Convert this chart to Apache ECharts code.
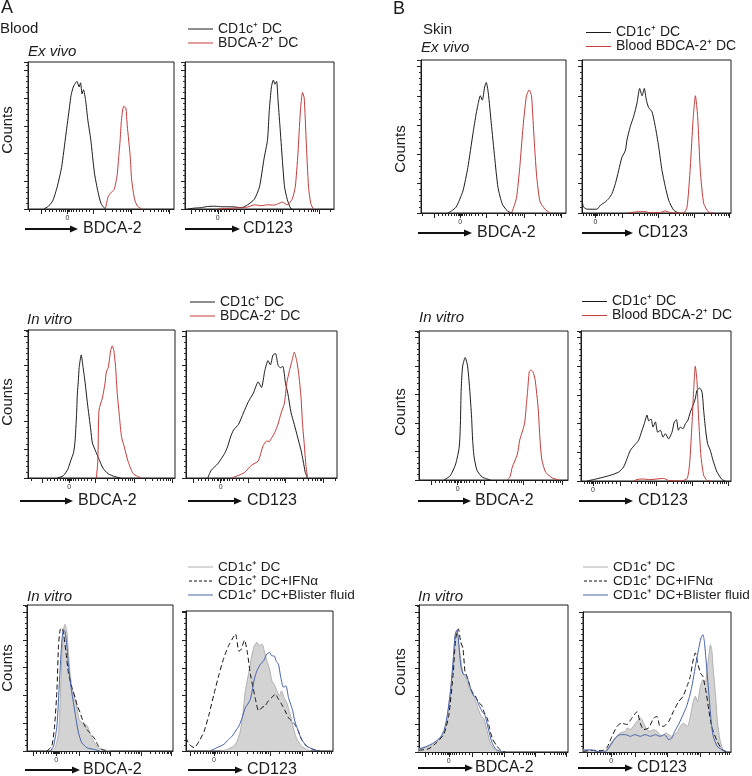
<!DOCTYPE html>
<html><head><meta charset="utf-8">
<script src="https://cdn.jsdelivr.net/npm/echarts@6/dist/echarts.min.js"></script>
<style>html,body{margin:0;padding:0;background:#fff}#c{width:752px;height:776px}</style>
</head><body><div id="c"></div>
<script>
// ---------- data: [x (% of axis range), counts (tick units)] ----------
const A1L_cd1c = [[11,0],[14,0.1],[17,0.3],[20,0.8],[23,1.5],[26,2.7],[28.5,3.7],[29.5,4.1],[31,4.4],[32,4.5],[33.5,4.6],[35,4.4],[36,4.55],[37,4.15],[38,4.3],[39.5,3.9],[41,3.2],[43,2.5],[45.5,1.3],[48,0.6],[50,0.2],[52,0.05],[53,0]];
const A1L_bdca = [[53,0],[54,0.25],[55,0.45],[57,0.6],[59,0.7],[61,1.2],[62,1.8],[63,2.4],[64,3.2],[65.5,3.7],[67,3.65],[68,3.0],[70,1.9],[71,1.05],[73,0.35],[75,0.1],[78,0]];
const A1R_cd1c = [[2,0],[6,0.03],[11,0.05],[15,0.09],[20,0.1],[25,0.08],[31,0.08],[38,0.05],[42,0.15],[46.5,0.35],[50,0.8],[53,1.8],[55.4,2.5],[56.5,3.5],[58,4.4],[59.3,4.65],[60.4,4.5],[61.5,4.6],[62.4,3.95],[63.7,3.0],[65.3,1.8],[66.8,0.8],[68.6,0.35],[70.8,0.03],[72,0]];
const A1R_bdca = [[22,0],[32,0.03],[42,0.07],[46.6,0.15],[51,0.12],[55.4,0.15],[59.8,0.14],[63,0.2],[65.3,0.25],[68.6,0.15],[71.9,0.35],[74,0.8],[75.8,2.0],[77.4,3.5],[78.9,4.2],[80,4.0],[81.3,2.5],[82.9,0.8],[84.4,0.2],[86,0]];
const B1L_cd1c = [[18.5,0],[21,0.07],[24.2,0.2],[28.9,0.75],[32.3,1.55],[35.8,2.7],[38.1,3.4],[39.3,3.7],[40.9,4.0],[42.3,3.85],[43.9,4.3],[45,4.45],[46.4,4.1],[48.5,3.05],[50.8,1.9],[53.1,0.87],[56.1,0.3],[60,0.05],[63.5,0]];
const B1L_bdca = [[62,0],[63,0.07],[65.8,0.5],[68.1,1.55],[70.4,2.95],[72.7,4.0],[74.6,4.2],[76.2,4.0],[77.8,2.7],[79.7,1.3],[82,0.4],[85.5,0.13],[88.9,0]];
const B1R_cd1c = [[0,0.43],[1.1,0.2],[3.4,0.13],[10,0.13],[12.3,0.26],[15.7,0.38],[17.9,0.49],[20.1,0.66],[22.4,1.0],[24.6,1.45],[26.8,1.9],[29.1,2.13],[30.2,2.5],[32.4,2.95],[34.7,3.3],[36.9,3.75],[38.7,4.25],[40.3,4.0],[41.8,4.25],[43.2,3.85],[44.7,3.6],[47,3.45],[49.2,2.95],[51.5,2.25],[53.7,1.45],[55.9,0.9],[58.2,0.43],[61.5,0.1],[64.9,0]];
const B1R_bdca = [[30.2,0],[36.9,0.04],[41.4,0.05],[45.9,0.01],[52.6,0.02],[55.9,0.07],[58.2,0.03],[62.6,0],[68.2,0],[70.5,0.2],[72.7,1.57],[74.5,3.15],[76.1,4.0],[77.6,3.3],[79.4,1.45],[81.7,0.32],[85,0.03],[88.4,0]];

const A2L_cd1c = [[20,0],[24,0.08],[27,0.3],[29,0.6],[31,0.9],[32,1.3],[33,2.2],[33.6,3.0],[34.2,3.4],[34.8,3.9],[36.2,4.35],[37.5,3.9],[38.9,3.35],[40.4,2.65],[42.7,1.7],[43.8,1.24],[46,0.95],[48,0.7],[51,0.35],[54.5,0.15],[59,0.05],[63,0]];
const A2L_bdca = [[46.5,0],[47.5,0.6],[48.3,2.4],[50.6,2.83],[52.4,3.35],[53.3,3.75],[54.6,3.9],[56.2,4.5],[57.3,4.67],[58.4,4.5],[59.6,3.9],[60.7,3.0],[62.2,2.17],[63.6,1.46],[65.5,1.1],[68,0.6],[71.6,0.15],[77,0]];
const A2R_cd1c = [[14.4,0],[16.7,0.27],[21,0.5],[25.5,0.86],[27.5,1.1],[29.5,1.45],[31.5,1.7],[34.8,1.9],[38,2.3],[41.3,2.7],[44.6,3.0],[47.8,3.4],[50,3.2],[52.2,3.8],[54.3,4.15],[55.9,4.0],[57.6,4.35],[59.3,4.4],[60.9,4.0],[62.4,3.9],[64.1,3.95],[65.9,3.35],[67.4,3.0],[69.6,2.3],[71.7,1.9],[73.9,1.45],[76.1,1.0],[77.6,0.6],[79,0.2],[80.4,0]];
const A2R_bdca = [[30,0],[35,0.1],[38.9,0.2],[43.3,0.45],[47.8,0.6],[51.1,1.15],[53.3,1.3],[55.4,1.3],[56.5,1.4],[58.7,1.6],[60.9,1.9],[63,2.3],[65.2,2.65],[66.7,3.35],[68.5,3.8],[70.2,4.15],[71.7,4.45],[73.3,4.15],[74.6,3.7],[76.1,2.9],[77.2,1.9],[78.3,1.2],[79.5,0.4],[80.6,0]];
const B2L_cd1c = [[16.8,0],[21,0.15],[24.6,0.56],[27,1.15],[27.8,2.0],[28.2,3.0],[28.6,3.5],[29.3,4.0],[31,4.3],[32.6,4.0],[34,3.2],[35.3,2.2],[36,1.4],[37,0.8],[39,0.33],[42.5,0.1],[48,0]];
const B2L_bdca = [[59,0],[61,0.1],[62.6,0.45],[66,0.9],[67.6,1.4],[70.8,1.97],[72,2.6],[73,3.2],[74,3.8],[75,3.86],[76.5,3.8],[78,3.5],[80,2.5],[81,1.6],[81.5,1.2],[82.5,0.7],[85,0.27],[89.5,0.07],[94,0]];
const B2R_cd1c = [[4,0],[8.4,0.05],[14,0.12],[19.6,0.2],[25.1,0.31],[28.4,0.49],[30.7,0.78],[32.9,1.07],[36.2,1.28],[38.4,1.42],[40.7,1.77],[42.2,2.0],[44,2.3],[45.1,2.1],[46.7,2.16],[48,1.88],[49.6,2.06],[51.1,1.7],[52.9,1.77],[54.7,1.53],[56.2,1.65],[58.4,1.47],[60.7,1.71],[62.2,2.06],[63.6,2.14],[64.9,1.77],[66.2,1.88],[68,1.82],[69.6,2.0],[71.1,2.1],[72.9,2.4],[74.7,2.64],[76.2,2.87],[77.3,3.16],[79.1,3.24],[80.7,3.1],[81.8,2.45],[83.1,1.77],[84.4,1.3],[86.2,1.07],[88,0.72],[90.7,0.31],[94,0.05],[96.2,0]];
const B2R_bdca = [[35,0],[37.3,0.05],[40.7,0.07],[46.2,0.05],[55.1,0.09],[58.4,0.02],[66.2,0],[70.7,0.08],[72.4,0.6],[74,2.0],[75.1,3.16],[76.2,4.0],[77.3,3.5],[78.4,2.2],[80,0.84],[81.8,0.2],[84,0.02],[86.2,0]];

const A3L_cd1c = [[16,0],[19.3,0.12],[21.6,0.66],[22.7,1.74],[23.9,3.4],[25,4.36],[26,4.55],[27.3,4.3],[28.4,3.5],[29.5,2.8],[30.7,2.34],[32.3,1.98],[34,1.62],[35.7,1.14],[37.5,1.02],[39.8,0.96],[41.4,0.9],[43,0.66],[45.5,0.36],[48.9,0.12],[52,0.06],[57,0]];
const A3L_ifn = [[13.6,0],[17,0.18],[18.9,0.9],[20.5,2.2],[21.6,3.8],[22.7,4.36],[23.9,4.43],[25,4.25],[26.8,3.5],[28.4,2.8],[30.7,2.28],[33,1.92],[34.5,1.62],[36.4,1.38],[38.6,1.02],[40.9,0.78],[43,0.66],[46.6,0.42],[48.9,0.18],[51,0.06],[54.5,0]];
const A3L_bf = [[16,0],[18.2,0.18],[20.5,0.9],[22.3,2.58],[23.9,4.0],[25,4.36],[26,4.3],[27.3,3.8],[28.4,3.06],[30,2.34],[31.8,1.74],[33.6,1.14],[35.2,0.66],[37.5,0.3],[41,0.12],[45.5,0.06],[50,0]];
const A3R_cd1c = [[23.6,0],[28,0.06],[32.6,0.18],[34.8,0.36],[37,0.72],[38.9,1.45],[40.4,2.17],[42.7,2.83],[44.5,3.37],[46.5,3.8],[48.3,3.92],[50,3.8],[51.7,3.86],[53.3,3.6],[55,3.25],[56.9,2.95],[58.4,2.53],[60,2.4],[61.8,2.17],[63.6,1.99],[65,2.17],[66.7,1.93],[68.5,1.75],[70.8,1.33],[73,0.84],[75,0.48],[78.6,0.18],[82,0.06],[85,0]];
const A3R_ifn = [[0,0.48],[2.2,0.24],[5.6,0.12],[9,0.36],[12.4,0.72],[15.7,1.33],[19,2.05],[22.5,2.77],[25.8,3.37],[29,3.8],[31.5,4.04],[33.7,4.22],[36,3.6],[37.5,3.66],[39.8,4.0],[41.6,3.6],[43.8,2.77],[45.6,2.29],[47,1.93],[49.4,1.45],[51.7,1.57],[53.9,1.63],[56,1.81],[58.4,1.93],[60.7,2.05],[62.9,1.87],[65,1.69],[67.4,1.45],[69.7,1.2],[71.9,1.08],[74,0.96],[76.4,0.72],[78.6,0.42],[82,0.18],[86.5,0.06],[91,0]];
const A3R_bf = [[17,0.02],[21,0.12],[25.8,0.24],[29,0.42],[31.5,0.54],[33.7,0.72],[36,0.9],[38.2,1.2],[40.4,1.57],[42,1.69],[43.8,1.87],[45,2.17],[46.5,2.6],[48.3,2.9],[50.6,3.13],[52.8,3.25],[55,3.5],[56.9,3.55],[58.4,3.43],[60,3.43],[61.3,3.25],[62.9,3.13],[64.5,2.65],[66.3,2.3],[68,2.35],[69.7,1.93],[71.2,1.69],[72.6,1.45],[74,1.08],[76.4,0.72],[78.6,0.42],[82,0.18],[86.5,0.06],[90,0]];
const B3L_cd1c = [[0,0.12],[3.4,0.18],[7.8,0.24],[12.3,0.42],[15.7,0.6],[17.9,0.95],[20,1.67],[22,2.62],[23.5,3.57],[24.6,4.23],[25.7,4.35],[26.8,3.8],[28.6,3.1],[30,2.74],[31.8,2.62],[33.6,2.32],[35.3,2.14],[37,1.96],[39,1.67],[41.4,1.31],[43.6,1.19],[45.9,0.71],[48,0.3],[51.5,0.06],[54.8,0]];
const B3L_ifn = [[0,0.06],[6.7,0.12],[12.3,0.36],[16.8,0.65],[20,1.31],[23,2.86],[24.6,4.05],[26.4,4.4],[28,3.93],[29.5,3.7],[30.9,2.86],[32.4,2.68],[34,2.38],[35.8,2.14],[37.6,2.02],[39.8,1.79],[42,1.67],[43.6,1.43],[45.9,1.19],[47.4,0.83],[49.2,0.48],[51.9,0.24],[54.8,0.06],[58,0]];
const B3L_bf = [[0,0.1],[4.5,0.18],[9,0.3],[12.3,0.42],[14.5,0.54],[16.8,0.77],[19,1.31],[21.3,2.26],[23,3.33],[24.2,4.17],[25.3,4.35],[26.4,4.05],[28,3.1],[29.5,2.8],[31.3,2.74],[33,2.56],[34.7,2.26],[36.5,2.02],[38,1.96],[40.3,1.67],[42.5,1.43],[44.3,1.31],[46.5,0.83],[48.8,0.36],[51.5,0.1],[56,0]];
const B3R_cd1c = [[0,0.08],[5,0.06],[11.7,0.02],[16,0.08],[19,0.32],[21.8,0.5],[25,0.68],[28.6,0.74],[30,0.86],[32,0.8],[34,0.92],[36.5,1.1],[38.7,1.21],[39.9,1.15],[41.4,0.98],[43,0.8],[45.5,0.74],[47.7,0.8],[50,0.74],[52,0.62],[54,0.56],[55.6,0.68],[58,0.62],[60,0.56],[62,0.62],[64,0.74],[65.8,0.92],[67.6,1.03],[69,0.98],[70.7,0.92],[72.5,1.27],[74.3,1.75],[75.9,1.99],[77.5,1.8],[79.3,2.35],[81,2.58],[82.7,2.5],[83.8,2.94],[85,3.42],[86,3.83],[87,3.65],[88,2.94],[89.6,1.99],[90.7,1.15],[92.5,0.44],[94.6,0.08],[97,0]];
const B3R_ifn = [[0,0.02],[7,0.06],[12.8,0.05],[16,0.14],[19.6,0.56],[23,0.92],[26,1.03],[29.7,0.98],[33,1.21],[36.5,1.44],[38.7,1.03],[41,0.8],[44.4,0.86],[47.7,1.21],[50,1.27],[52,0.92],[54.5,0.92],[58,1.1],[61,1.44],[64.6,1.8],[67.6,1.99],[70.3,2.35],[72.5,2.7],[74.3,3.25],[75.9,3.54],[77.5,3.18],[79.3,2.82],[81,2.7],[82,2.46],[83.3,2.1],[85,1.5],[86.5,1.03],[88,0.74],[90.7,0.38],[94,0.08],[97,0]];
const B3R_bf = [[0,0.06],[5,0.08],[9.5,0.02],[15,0],[17.3,0.14],[19.6,0.32],[21.8,0.5],[25.2,0.62],[28.6,0.62],[32,0.56],[35,0.62],[38.7,0.56],[42,0.62],[45.5,0.56],[48.9,0.62],[52,0.56],[55,0.62],[58,0.44],[60,0.5],[62,0.74],[65,1.03],[67.6,1.33],[70,1.63],[72,1.99],[73.6,2.35],[75,2.77],[76.6,3.25],[78,3.65],[79.7,4.07],[81,4.19],[82,3.95],[83.3,3.18],[85,2.1],[86.5,1.15],[88,0.56],[90.7,0.2],[94,0.08],[97,0.02]];

// legend / axis texts
const LBL_CD1C = 'CD1c⁺ DC';
const LBL_BDCA = 'BDCA-2⁺ DC';
const LBL_BBDCA = 'Blood BDCA-2⁺ DC';
const LBL_IFN = 'CD1c⁺ DC+IFNα';
const LBL_BF = 'CD1c⁺ DC+Blister fluid';
const ZERO_LABEL = '0';

// ---------- layout ----------
const FONT = '"Liberation Sans", Arial, Helvetica, sans-serif';
const SOLID_ICON = 'rect';
const DASH_ICON = 'path://M0,0h3v1h-3zM5,0h3v1h-3zM10,0h3v1h-3zM15,0h3v1h-3zM20,0h3v1h-3z';
const STY = {
  black: {line:{color:'#1c1c1c', width:1}, icon:SOLID_ICON},
  red:   {line:{color:'#c43b3b', width:1}, icon:SOLID_ICON},
  gray:  {line:{color:'#afafaf', width:1}, area:'#d3d3d3', icon:SOLID_ICON},
  dash:  {line:{color:'#111', width:1, type:[5,3]}, icon:DASH_ICON},
  blue:  {line:{color:'#4762aa', width:1}, icon:SOLID_ICON}
};
// rect: left, top, width, height ; tk: zero%, linear half-width%, decade% ; leg: left, top, lineHeight, fontSize
const panels = [
  {id:'A1L', rect:[28,62,146,147], ymax:5.3, tk:[27,18,26], s:[[LBL_CD1C,'black',A1L_cd1c],[LBL_BDCA,'red',A1L_bdca]]},
  {id:'A1R', rect:[185,62,149,147], ymax:5.3, tk:[22,18,25], s:[[LBL_CD1C,'black',A1R_cd1c],[LBL_BDCA,'red',A1R_bdca]], leg:[188,22,14,14]},
  {id:'B1L', rect:[421,60,145,153], ymax:5.22, tk:[27,18,26], s:[[LBL_CD1C,'black',B1L_cd1c],[LBL_BBDCA,'red',B1L_bdca]]},
  {id:'B1R', rect:[582,60,149,153], ymax:5.22, tk:[9,18,24], s:[[LBL_CD1C,'black',B1R_cd1c],[LBL_BBDCA,'red',B1R_bdca]], leg:[586,25.5,13,14]},
  {id:'A2L', rect:[28,330,147,148], ymax:5.23, tk:[28,18,26], s:[[LBL_CD1C,'black',A2L_cd1c],[LBL_BDCA,'red',A2L_bdca]]},
  {id:'A2R', rect:[186,331,151,147], ymax:5.2, tk:[23,18,25], s:[[LBL_CD1C,'black',A2R_cd1c],[LBL_BDCA,'red',A2R_bdca]], leg:[190,295,14,14]},
  {id:'B2L', rect:[419,331,149,149], ymax:5.23, tk:[26,18,26], s:[[LBL_CD1C,'black',B2L_cd1c],[LBL_BBDCA,'red',B2L_bdca]]},
  {id:'B2R', rect:[581,331,150,150], ymax:5.23, tk:[8,18,24], s:[[LBL_CD1C,'black',B2R_cd1c],[LBL_BBDCA,'red',B2R_bdca]], leg:[582,294.5,13,14]},
  {id:'A3L', rect:[27,605,146,146], ymax:5.25, tk:[20,16,21], s:[[LBL_CD1C,'gray',A3L_cd1c],[LBL_IFN,'dash',A3L_ifn],[LBL_BF,'blue',A3L_bf]]},
  {id:'A3R', rect:[186,611,147,140], ymax:5.05, tk:[19,16,22], s:[[LBL_CD1C,'gray',A3R_cd1c],[LBL_IFN,'dash',A3R_ifn],[LBL_BF,'blue',A3R_bf]], leg:[188,560,12,13.6]},
  {id:'B3L', rect:[419,605,149,147], ymax:5.25, tk:[20,16,21], s:[[LBL_CD1C,'gray',B3L_cd1c],[LBL_IFN,'dash',B3L_ifn],[LBL_BF,'blue',B3L_bf]]},
  {id:'B3R', rect:[583,612,148,140], ymax:5.0, tk:[19,16,22], s:[[LBL_CD1C,'gray',B3R_cd1c],[LBL_IFN,'dash',B3R_ifn],[LBL_BF,'blue',B3R_bf]], leg:[583,560,12,13.6]}
];

function tickSet(tk){
  const [z,a,d] = tk; const major=[z], minor=[];
  for (let k=1;k<=9;k++){ const o=a*Math.pow(k/10,1.6); minor.push(z+o, z-o); }
  major.push(z+a); if (z-a>=0) major.push(z-a);
  let s=z+a;
  while (s<100){ for (let k=2;k<=9;k++) minor.push(s+d*Math.log10(k)); major.push(s+d); s+=d; }
  const n=z-a;
  if (n>0){ for (let k=2;k<=9;k++) minor.push(n-d*Math.log10(k)); }
  const f=v=>v>=0.4&&v<=99.6;
  return {major:major.filter(f), minor:minor.filter(f)};
}

const grid=[], xAxis=[], yAxis=[], series=[], legend=[];
panels.forEach((p,i)=>{
  const [l,t,w,h]=p.rect;
  grid.push({left:l, top:t, width:w, height:h, show:true, borderColor:'#1c1c1c', borderWidth:1, backgroundColor:'transparent'});
  const ts=tickSet(p.tk);
  xAxis.push({gridIndex:i, type:'value', min:0, max:100, position:'bottom',
    axisLine:{show:true, lineStyle:{color:'#1c1c1c', width:1}},
    axisTick:{show:true, inside:false, length:3, customValues:ts.minor, lineStyle:{color:'#222', width:1}},
    axisLabel:{show:true, customValues:[p.tk[0]], formatter:()=>ZERO_LABEL, fontSize:7, margin:6, color:'#333', fontFamily:FONT},
    splitLine:{show:false}});
  xAxis.push({gridIndex:i, type:'value', min:0, max:100, position:'bottom',
    axisLine:{show:false},
    axisTick:{show:true, inside:false, length:5, customValues:ts.major, lineStyle:{color:'#222', width:1}},
    axisLabel:{show:false}, splitLine:{show:false}});
  yAxis.push({gridIndex:i, type:'value', min:0, max:p.ymax, interval:1,
    axisLine:{show:true, lineStyle:{color:'#1c1c1c', width:1}},
    axisTick:{show:true, inside:false, length:4, lineStyle:{color:'#222'}},
    minorTick:{show:true, splitNumber:5, length:2, lineStyle:{color:'#333'}},
    axisLabel:{show:false}, splitLine:{show:false}, minorSplitLine:{show:false}});
  const items=[];
  p.s.forEach((s,j)=>{
    const st=STY[s[1]]; const nm=p.id+'|'+s[0]; items.push({name:nm, icon:st.icon});
    const ser={type:'line', name:nm, xAxisIndex:2*i, yAxisIndex:i, data:s[2], symbol:'none', showSymbol:false,
      smooth:0.2, lineStyle:st.line, z:2+j, silent:true, itemStyle:{color:st.line.color}};
    if (st.area) ser.areaStyle={color:st.area, opacity:1};
    series.push(ser);
  });
  if (p.leg){
    legend.push({orient:'vertical', left:p.leg[0], top:p.leg[1], padding:0, itemGap:0, itemWidth:25, itemHeight:1,
      selectedMode:false, data:items, formatter:n=>n.split('|')[1],
      textStyle:{fontFamily:FONT, fontSize:p.leg[3], color:'#1c1c1c', lineHeight:p.leg[2]}});
  }
});

// free texts and arrows
const txt=(t,x,y,o={})=>({type:'text', x, y, rotation:o.rot||0, silent:true,
  style:{text:t, fontFamily:FONT, fontSize:o.size||15, fontStyle:o.it?'italic':'normal', fill:'#1c1c1c',
  align:o.align||'left', verticalAlign:'middle'}});
const graphic=[
  txt('A',1,8,{size:18}), txt('B',393,9,{size:18}),
  txt('Blood',0,29), txt('Skin',423,30),
  txt('Ex vivo',28,52,{it:1}), txt('Ex vivo',421,48,{it:1}),
  txt('In vitro',27,320,{it:1}), txt('In vitro',419,318,{it:1}),
  txt('In vitro',27,597,{it:1}), txt('In vitro',418,597,{it:1})
];
[[8,130],[401,149],[8,402],[401,412],[8,668],[401,672]].forEach(c=>graphic.push(txt('Counts',c[0],c[1],{rot:Math.PI/2, align:'center'})));
const arrows=[
  [25,78,229,'BDCA-2',83],[185,240,229,'CD123',243],[418,472,233,'BDCA-2',477],[582,633,233,'CD123',638],
  [20,73,501,'BDCA-2',78],[188,242,501,'CD123',247],[418,471,501,'BDCA-2',475],[579,633,501,'CD123',638],
  [25,80,770,'BDCA-2',83],[188,243,770,'CD123',247],[418,473,768,'BDCA-2',475],[578,633,768,'CD123',637]
];
arrows.forEach(a=>{
  const [x1,tip,y,lab,lx]=a;
  graphic.push({type:'line', silent:true, shape:{x1:x1, y1:y, x2:tip-6, y2:y}, style:{stroke:'#111', lineWidth:1.8}});
  graphic.push({type:'polygon', silent:true, shape:{points:[[tip-8,y-3.6],[tip,y],[tip-8,y+3.6]]}, style:{fill:'#111'}});
  graphic.push(txt(lab,lx,y,{size:16}));
});

const chart=echarts.init(document.getElementById('c'), null, {renderer:'canvas'});
chart.setOption({animation:false, backgroundColor:'#fff', grid, xAxis, yAxis, series, legend, graphic});
</script></body></html>
